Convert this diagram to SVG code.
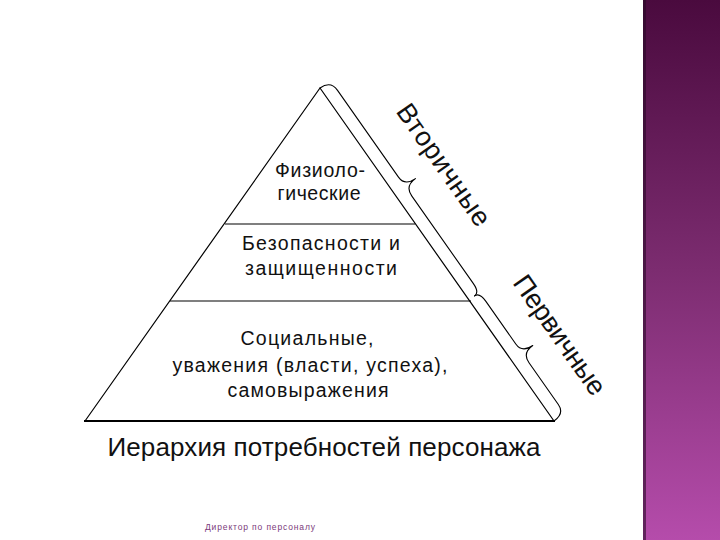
<svg xmlns="http://www.w3.org/2000/svg" width="720" height="540" viewBox="0 0 720 540">
<defs>
<linearGradient id="bar" x1="0" y1="0" x2="0" y2="1">
<stop offset="0" stop-color="#4a0a3e"/>
<stop offset="0.5" stop-color="#7c2c70"/>
<stop offset="1" stop-color="#b54cab"/>
</linearGradient>
<style>
.ln{fill:none;stroke:#000;stroke-width:1.2;stroke-linejoin:round}
.br{fill:none;stroke:#000;stroke-width:1.1;stroke-linejoin:round;stroke-linecap:round}
.t{font-family:"Liberation Sans",Arial,sans-serif;font-size:19.5px;fill:#111;text-anchor:middle}
.side{font-family:"Liberation Sans",Arial,sans-serif;font-size:27px;fill:#111;text-anchor:middle}
.title{font-family:"Liberation Sans",Arial,sans-serif;font-size:26px;fill:#111;text-anchor:middle}
.foot{font-family:"Liberation Sans",Arial,sans-serif;font-size:8.5px;fill:#7b3a7b;text-anchor:middle}
</style>
</defs>
<rect width="720" height="540" fill="#fff"/>
<g id="side-bar">
<rect x="643" y="0" width="77" height="540" fill="url(#bar)"/>
<rect x="643" y="0" width="3" height="540" fill="#2a0a28" opacity="0.6"/>
</g>
<g id="pyramid">
<path class="ln" d="M85,421 L320,88 L554,421"/>
<line x1="84" y1="421" x2="555" y2="421" stroke="#000" stroke-width="2.2"/>
</g>
<g id="level-physiological">
<line class="ln" x1="225" y1="224" x2="415" y2="224"/>
<text class="t" x="320" y="177" textLength="90" lengthAdjust="spacing">Физиоло-</text>
<text class="t" x="319" y="200" textLength="83" lengthAdjust="spacing">гические</text>
</g>
<g id="level-safety">
<line class="ln" x1="170" y1="301" x2="471" y2="301"/>
<text class="t" x="321" y="250" textLength="158" lengthAdjust="spacing">Безопасности и</text>
<text class="t" x="321" y="275" textLength="152" lengthAdjust="spacing">защищенности</text>
</g>
<g id="level-social">
<text class="t" x="307" y="345" textLength="133" lengthAdjust="spacing">Социальные,</text>
<text class="t" x="310" y="372" textLength="275" lengthAdjust="spacing">уважения (власти, успеха),</text>
<text class="t" x="308" y="397" textLength="161" lengthAdjust="spacing">самовыражения</text>
</g>
<g id="connectors" transform="translate(320,88) rotate(54.9)">
<path class="br" d="M0,0 Q0,-13 12,-13 L118,-13 Q129,-13 129,-26 Q129,-13 141,-13 L248,-13 Q259,-13 259,-7"/>
<path class="br" d="M259,-7 Q259,-13 270,-13 L322,-13 Q333,-13 333,-26 Q333,-13 345,-13 L396,-13 Q407,-13 407,0"/>
</g>
<g id="label-secondary" transform="translate(320,88) rotate(54.9)">
<text class="side" x="134" y="-48" textLength="143" lengthAdjust="spacing">Вторичные</text>
</g>
<g id="label-primary" transform="translate(320,88) rotate(54.9)">
<text class="side" x="340" y="-45" textLength="140" lengthAdjust="spacing">Первичные</text>
</g>
<g id="title">
<text class="title" x="324" y="456" textLength="433" lengthAdjust="spacing">Иерархия потребностей персонажа</text>
</g>
<g id="footer">
<text class="foot" x="260" y="530" textLength="110" lengthAdjust="spacing">Директор по персоналу</text>
</g>
</svg>
